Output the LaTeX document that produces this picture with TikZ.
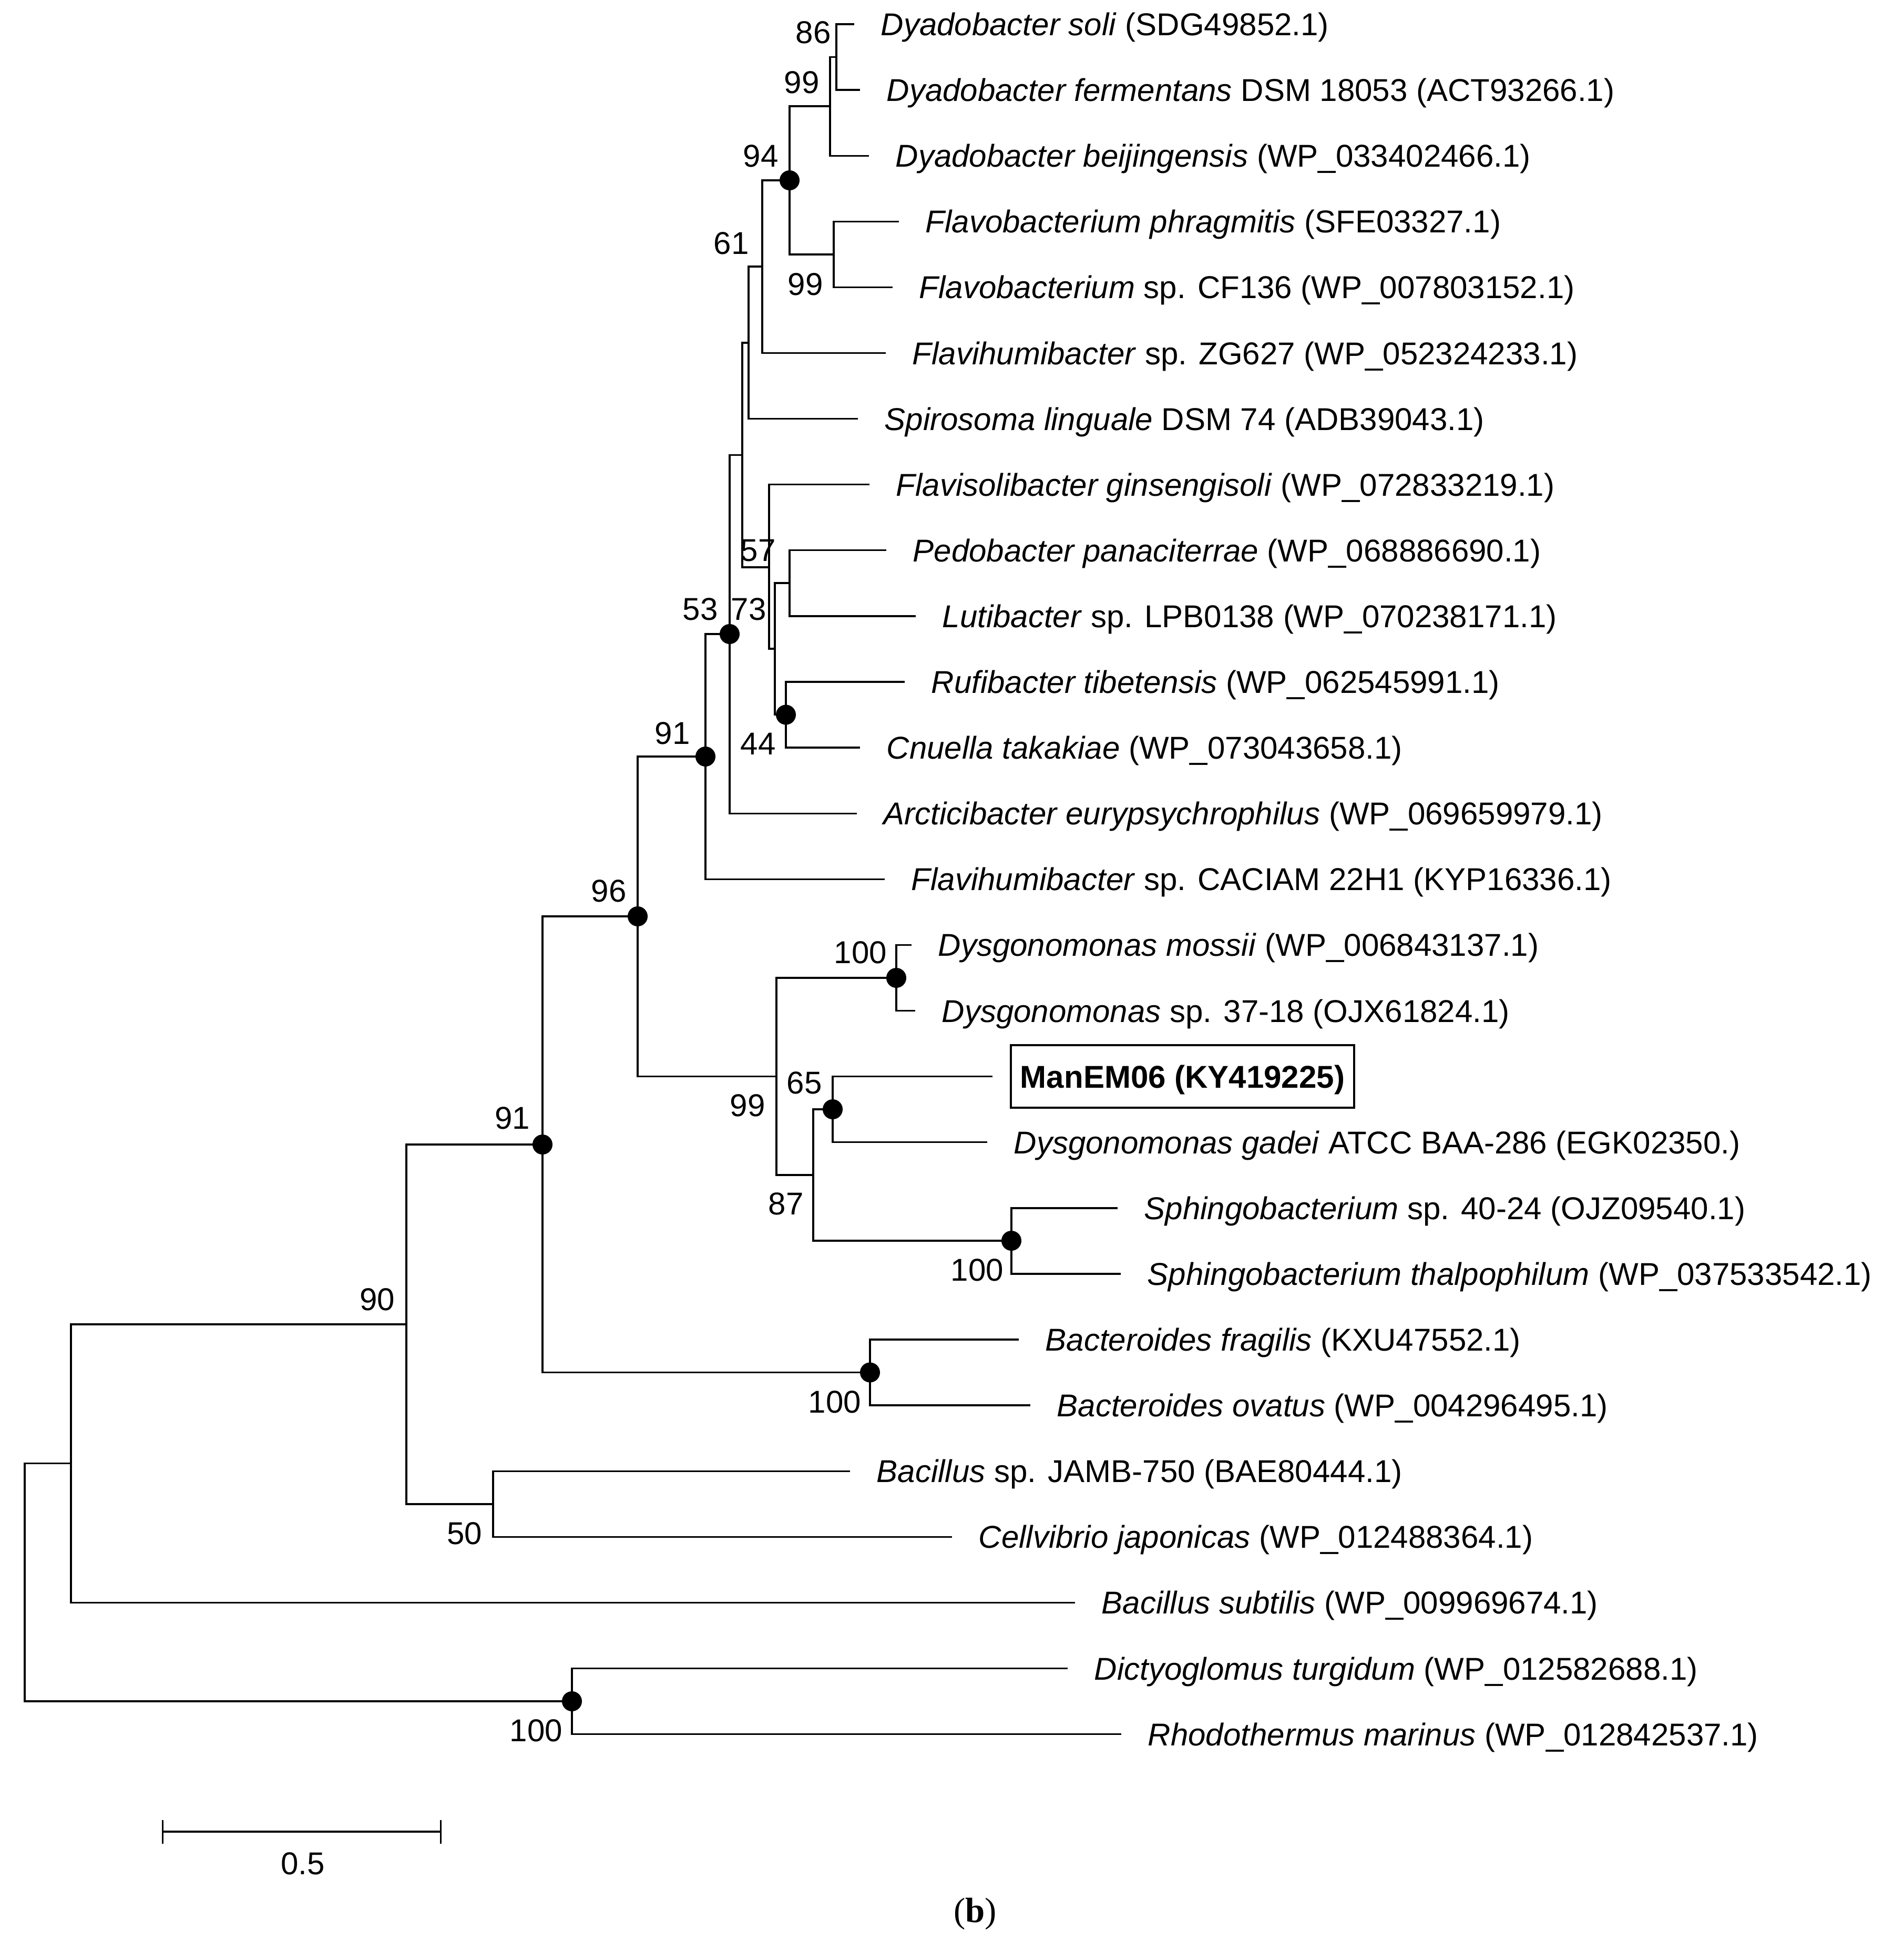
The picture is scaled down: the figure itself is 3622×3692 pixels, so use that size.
\documentclass[tikz,border=0pt]{standalone}
\usepackage{fontspec}
\setmainfont{Liberation Sans}
\newfontfamily\panelfont{Liberation Serif}
\usetikzlibrary{positioning,arrows.meta}

\begin{document}
\begin{tikzpicture}[
		x=0.01cm, y=-0.01cm,
		font=\fontsize{17.07pt}{20pt}\selectfont,
		node distance=0.5cm,
		branch/.style={line width=0.95pt},
		taxon/.style={inner sep=0pt, text height=0.43cm, text depth=0pt},
		boot/.style={inner sep=0pt},
		dot/.style={circle, fill=black, inner sep=0pt, minimum size=0.38cm},
		strainbox/.style={
				draw,
				line width=1.1pt,
				inner xsep=0.18cm,
				inner ysep=0.38cm,
				text height=0.43cm,
				text depth=0pt,
				font=\fontsize{17.07pt}{20pt}\selectfont\bfseries
			}
	]

	\useasboundingbox (0,0) rectangle (3622,3692);

	\coordinate (t1) at (1625,46);
	\coordinate (t2) at (1636,171.1);
	\coordinate (t3) at (1653,296.2);
	\coordinate (t4) at (1710,421.3);
	\coordinate (t5) at (1698,546.4);
	\coordinate (t6) at (1685,671.5);
	\coordinate (t7) at (1632,796.6);
	\coordinate (t8) at (1654,921.7);
	\coordinate (t9) at (1686,1046.8);
	\coordinate (t10) at (1742,1171.9);
	\coordinate (t11) at (1721,1297);
	\coordinate (t12) at (1636,1422.1);
	\coordinate (t13) at (1630,1547.2);
	\coordinate (t14) at (1683,1672.3);
	\coordinate (t15) at (1734,1797.4);
	\coordinate (t16) at (1741,1922.5);
	\coordinate (t17) at (1888,2047.6);
	\coordinate (t18) at (1878,2172.7);
	\coordinate (t19) at (2126,2297.8);
	\coordinate (t20) at (2132,2422.9);
	\coordinate (t21) at (1938,2548);
	\coordinate (t22) at (1960,2673.1);
	\coordinate (t23) at (1617,2798.2);
	\coordinate (t24) at (1811,2923.3);
	\coordinate (t25) at (2045,3048.4);
	\coordinate (t26) at (2031,3173.5);
	\coordinate (t27) at (2133,3298.6);

	\coordinate (n86) at (1591,108.5);
	\coordinate (n99a) at (1579,202);
	\coordinate (n99b) at (1586,484);
	\coordinate (n94) at (1502,343);
	\coordinate (n61) at (1450,507);
	\coordinate (nspi) at (1424,652);
	\coordinate (npl) at (1502,1109);
	\coordinate (n44) at (1495,1359.5);
	\coordinate (n73) at (1474,1234);
	\coordinate (n57) at (1463,1079);
	\coordinate (nx) at (1412,865.5);
	\coordinate (n53) at (1388,1206);
	\coordinate (n91a) at (1342,1439);
	\coordinate (n100a) at (1705,1860);
	\coordinate (n65) at (1584,2110);
	\coordinate (n100b) at (1924,2360);
	\coordinate (n87) at (1547,2235);
	\coordinate (n99c) at (1477,2047.5);
	\coordinate (n96) at (1213,1743);
	\coordinate (n100c) at (1655,2610.5);
	\coordinate (n91b) at (1032,2177);
	\coordinate (n50) at (938,2861);
	\coordinate (n90) at (773,2519);
	\coordinate (nbs) at (135,2783.5);
	\coordinate (n100d) at (1088,3236);
	\coordinate (root) at (47,3010);

	\draw[branch] (t1) -| (n86) |- (t2);
	\draw[branch] (n86) -| (n99a) |- (t3);
	\draw[branch] (t4) -| (n99b) |- (t5);
	\draw[branch] (n99a) -| (n94) |- (n99b);
	\draw[branch] (n94) -| (n61) |- (t6);
	\draw[branch] (n61) -| (nspi) |- (t7);
	\draw[branch] (t9) -| (npl) |- (t10);
	\draw[branch] (t11) -| (n44) |- (t12);
	\draw[branch] (npl) -| (n73) |- (n44);
	\draw[branch] (t8) -| (n57) |- (n73);
	\draw[branch] (nspi) -| (nx) |- (n57);
	\draw[branch] (nx) -| (n53) |- (t13);
	\draw[branch] (n53) -| (n91a) |- (t14);
	\draw[branch] (t15) -| (n100a) |- (t16);
	\draw[branch] (t17) -| (n65) |- (t18);
	\draw[branch] (t19) -| (n100b) |- (t20);
	\draw[branch] (n65) -| (n87) |- (n100b);
	\draw[branch] (n100a) -| (n99c) |- (n87);
	\draw[branch] (n91a) -| (n96) |- (n99c);
	\draw[branch] (t21) -| (n100c) |- (t22);
	\draw[branch] (n96) -| (n91b) |- (n100c);
	\draw[branch] (t23) -| (n50) |- (t24);
	\draw[branch] (n91b) -| (n90) |- (n50);
	\draw[branch] (n90) -| (nbs) |- (t25);
	\draw[branch] (t26) -| (n100d) |- (t27);
	\draw[branch] (nbs) -| (root) |- (n100d);

	\node[dot] (d94) at (n94) {};
	\node[dot] (d53) at (n53) {};
	\node[dot] (d44) at (n44) {};
	\node[dot] (d91a) at (n91a) {};
	\node[dot] (d96) at (n96) {};
	\node[dot] (d100a) at (n100a) {};
	\node[dot] (d65) at (n65) {};
	\node[dot] (d100b) at (n100b) {};
	\node[dot] (d91b) at (n91b) {};
	\node[dot] (d100c) at (n100c) {};
	\node[dot] (d100d) at (n100d) {};

	\node[taxon, right=of t1] (l1) {\textit{Dyadobacter soli} (SDG49852.1)};
	\node[taxon, right=of t2] (l2) {\textit{Dyadobacter fermentans} DSM 18053 (ACT93266.1)};
	\node[taxon, right=of t3] (l3) {\textit{Dyadobacter beijingensis} (WP\_033402466.1)};
	\node[taxon, right=of t4] (l4) {\textit{Flavobacterium phragmitis} (SFE03327.1)};
	\node[taxon, right=of t5] (l5) {\textit{Flavobacterium} sp. CF136 (WP\_007803152.1)};
	\node[taxon, right=of t6] (l6) {\textit{Flavihumibacter} sp. ZG627 (WP\_052324233.1)};
	\node[taxon, right=of t7] (l7) {\textit{Spirosoma linguale} DSM 74 (ADB39043.1)};
	\node[taxon, right=of t8] (l8) {\textit{Flavisolibacter ginsengisoli} (WP\_072833219.1)};
	\node[taxon, right=of t9] (l9) {\textit{Pedobacter panaciterrae} (WP\_068886690.1)};
	\node[taxon, right=of t10] (l10) {\textit{Lutibacter} sp. LPB0138 (WP\_070238171.1)};
	\node[taxon, right=of t11] (l11) {\textit{Rufibacter tibetensis} (WP\_062545991.1)};
	\node[taxon, right=of t12] (l12) {\textit{Cnuella takakiae} (WP\_073043658.1)};
	\node[taxon, right=of t13] (l13) {\textit{Arcticibacter eurypsychrophilus} (WP\_069659979.1)};
	\node[taxon, right=of t14] (l14) {\textit{Flavihumibacter} sp. CACIAM 22H1 (KYP16336.1)};
	\node[taxon, right=of t15] (l15) {\textit{Dysgonomonas mossii} (WP\_006843137.1)};
	\node[taxon, right=of t16] (l16) {\textit{Dysgonomonas} sp. 37-18 (OJX61824.1)};
	\node[strainbox, right=0.33cm of t17] (l17) {ManEM06 (KY419225)};
	\node[taxon, right=of t18] (l18) {\textit{Dysgonomonas gadei} ATCC BAA-286 (EGK02350.)};
	\node[taxon, right=of t19] (l19) {\textit{Sphingobacterium} sp. 40-24 (OJZ09540.1)};
	\node[taxon, right=of t20] (l20) {\textit{Sphingobacterium thalpophilum} (WP\_037533542.1)};
	\node[taxon, right=of t21] (l21) {\textit{Bacteroides fragilis} (KXU47552.1)};
	\node[taxon, right=of t22] (l22) {\textit{Bacteroides ovatus} (WP\_004296495.1)};
	\node[taxon, right=of t23] (l23) {\textit{Bacillus} sp. JAMB-750 (BAE80444.1)};
	\node[taxon, right=of t24] (l24) {\textit{Cellvibrio japonicas} (WP\_012488364.1)};
	\node[taxon, right=of t25] (l25) {\textit{Bacillus subtilis} (WP\_009969674.1)};
	\node[taxon, right=of t26] (l26) {\textit{Dictyoglomus turgidum} (WP\_012582688.1)};
	\node[taxon, right=of t27] (l27) {\textit{Rhodothermus marinus} (WP\_012842537.1)};

	\node[boot] (b86) at (1547,62) {86};
	\node[boot] (b99a) at (1525,157) {99};
	\node[boot] (b94) at (1447,297) {94};
	\node[boot] (b61) at (1391,463) {61};
	\node[boot] (b99b) at (1532,541) {99};
	\node[boot] (b57) at (1442,1047) {57};
	\node[boot] (b53) at (1332,1159) {53};
	\node[boot] (b73) at (1424,1159) {73};
	\node[boot] (b44) at (1442,1415) {44};
	\node[boot] (b91a) at (1279,1395) {91};
	\node[boot] (b96) at (1158,1695) {96};
	\node[boot] (b100a) at (1637,1812) {100};
	\node[boot] (b65) at (1530,2060) {65};
	\node[boot] (b99c) at (1422,2103) {99};
	\node[boot] (b87) at (1495,2290) {87};
	\node[boot] (b100b) at (1859,2416) {100};
	\node[boot] (b91b) at (975,2127) {91};
	\node[boot] (b100c) at (1588,2667) {100};
	\node[boot] (b90) at (718,2472) {90};
	\node[boot] (b50) at (884,2917) {50};
	\node[boot] (b100d) at (1020,3292) {100};

	\coordinate (s0) at (308,3484);
	\coordinate (s1) at (840,3484);
	\draw[branch, {Bar[width=0.45cm]}-{Bar[width=0.45cm]}] (s0) -- (s1);
	\node[boot] (scale) at (576,3545) {0.5};

	\node[font=\panelfont\fontsize{19pt}{22pt}\selectfont] (panel) at (1855,3640) {(\textbf{b})};
\end{tikzpicture}
\end{document}
